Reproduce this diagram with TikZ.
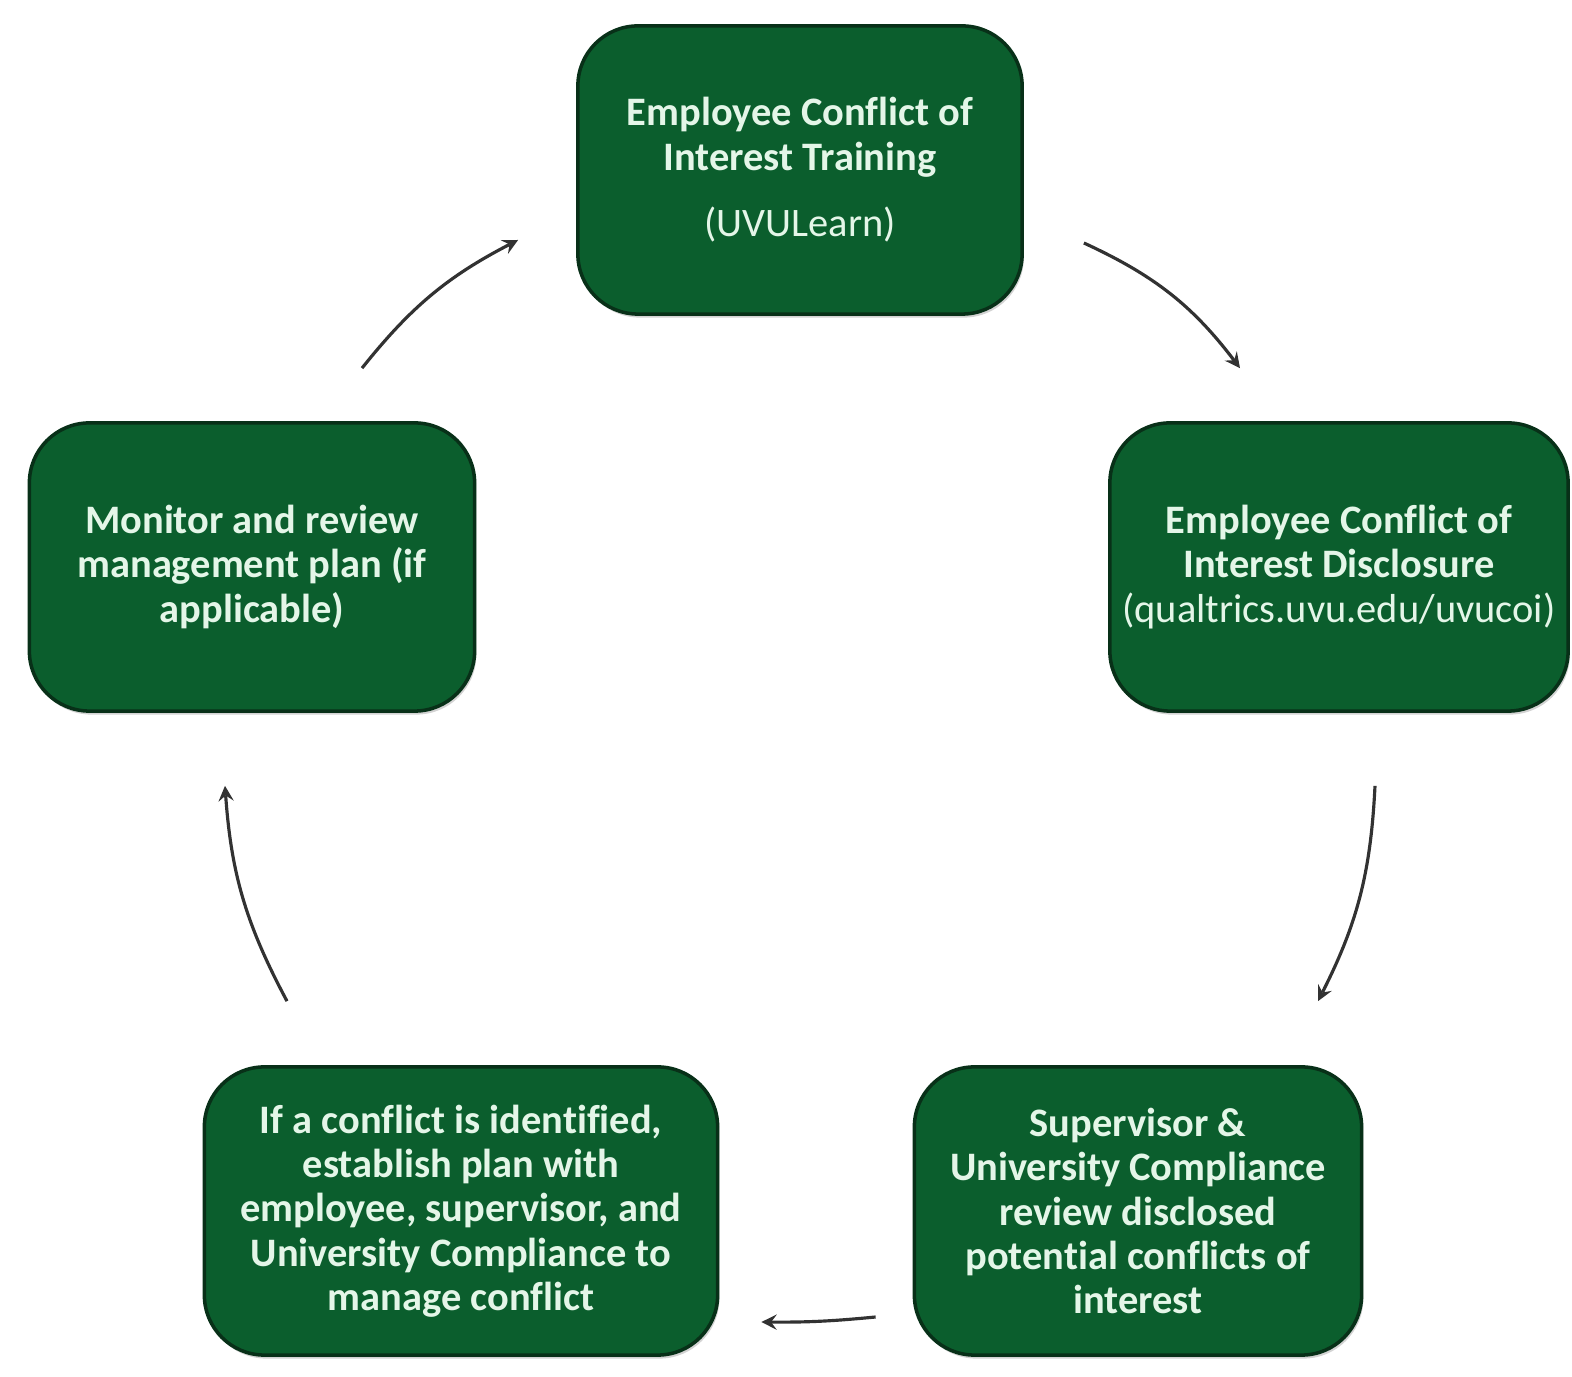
\documentclass[tikz,border=0pt]{standalone}
\usepackage{fontspec}
\setmainfont[Ligatures=NoCommon]{Carlito}
\usepackage{tikz}
\usetikzlibrary{shadows}
\definecolor{uvugreen}{RGB}{11,94,45}
\definecolor{uvuedge}{RGB}{8,48,24}
\definecolor{uvutext}{RGB}{228,246,232}
\definecolor{arrowgray}{RGB}{50,50,50}
\tikzset{
  stepbox/.style={draw=uvuedge, line width=1pt, fill=uvugreen, rounded corners=0.6cm,
    text=uvutext, align=center, inner sep=0pt, minimum height=2.88cm,
    font=\bfseries\fontsize{11.5}{12.6}\selectfont,
    drop shadow={shadow xshift=0.5pt, shadow yshift=-1pt, opacity=0.35}},
  cyc/.style={-stealth, arrowgray, line width=0.9pt},
}

\begin{document}
\begin{tikzpicture}[x=0.01cm, y=-0.01cm]
    \useasboundingbox (0,0) rectangle (1572,1377);

    % The five steps of the cycle
    \node[stepbox, minimum width=4.44cm] (train) at (800,170)
        {Employee Conflict of\\ Interest Training\\[0.55em]
         {\mdseries (UVULearn)}};
    \node[stepbox, minimum width=4.58cm] (disclose) at (1339,567)
        {Employee Conflict of\\ Interest Disclosure\\
         {\mdseries (qualtrics.uvu.edu/uvucoi)}};
    \node[stepbox, minimum width=4.47cm] (review) at (1138,1211)
        {Supervisor \&\\ University Compliance\\ review disclosed\\
         potential conflicts of\\ interest};
    \node[stepbox, minimum width=5.13cm] (plan) at (461,1211)
        {If a conflict is identified,\\ establish plan with\\
         employee, supervisor, and\\ University Compliance to\\ manage conflict};
    \node[stepbox, minimum width=4.45cm] (monitor) at (252,567)
        {Monitor and review\\ management plan (if\\ applicable)};

    % Arrows going round clockwise
    \draw[cyc] ([shift={(60,73)}]train.east) to[bend left=14] ([shift={(-99,-53)}]disclose.north);
    \draw[cyc] ([shift={(36,73)}]disclose.south) to[bend left=12] ([shift={(180,-64)}]review.north);
    \draw[cyc] ([shift={(-37,106)}]review.west) to[bend left=3] ([shift={(42,111)}]plan.east);
    \draw[cyc] ([shift={(-174,-64)}]plan.north) to[bend left=12] ([shift={(-27,73)}]monitor.south);
    \draw[cyc] ([shift={(110,-53)}]monitor.north) to[bend left=12] ([shift={(-58,70)}]train.west);
\end{tikzpicture}
\end{document}
